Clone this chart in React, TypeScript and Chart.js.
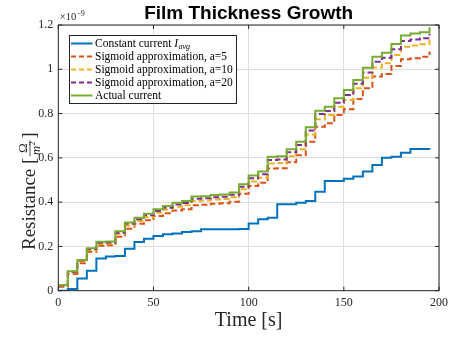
import React, { useEffect, useRef } from "react";
import { Chart, registerables } from "chart.js";

Chart.register(...registerables);

// ---- data (resistance values in units of 1e-9 Ω/m²) ----
const TIME = [
  0, 5, 10, 15, 20, 25, 30, 35, 40, 45, 50, 55, 60, 65, 70, 75, 80, 85, 90, 95,
  100, 105, 110, 115, 120, 125, 130, 135, 140, 145, 150, 155, 160, 165, 170, 175, 180, 185, 190, 195,
];
const CONSTANT_CURRENT = [
  0, 0.008, 0.055, 0.09, 0.145, 0.155, 0.157, 0.19, 0.22, 0.235, 0.247, 0.255, 0.258, 0.265, 0.268, 0.277, 0.277, 0.278, 0.278, 0.279,
  0.303, 0.323, 0.33, 0.39, 0.39, 0.397, 0.405, 0.447, 0.495, 0.495, 0.506, 0.516, 0.538, 0.568, 0.6, 0.605, 0.623, 0.64, 0.64, 0.638,
];
const SIGMOID_A5 = [
  0.018, 0.075, 0.124, 0.176, 0.203, 0.205, 0.244, 0.28, 0.302, 0.318, 0.337, 0.35, 0.362, 0.368, 0.386, 0.388, 0.393, 0.395, 0.402, 0.438,
  0.473, 0.488, 0.552, 0.553, 0.58, 0.612, 0.673, 0.741, 0.756, 0.794, 0.819, 0.866, 0.914, 0.967, 0.979, 1.015, 1.045, 1.05, 1.057, 1.08,
];
const SIGMOID_A10 = [
  0.022, 0.083, 0.133, 0.184, 0.211, 0.213, 0.256, 0.293, 0.315, 0.332, 0.352, 0.366, 0.379, 0.386, 0.405, 0.407, 0.412, 0.414, 0.422, 0.458,
  0.493, 0.51, 0.575, 0.577, 0.607, 0.639, 0.706, 0.774, 0.794, 0.831, 0.861, 0.914, 0.962, 1.008, 1.027, 1.065, 1.102, 1.107, 1.113, 1.135,
];
const SIGMOID_A20 = [
  0.024, 0.086, 0.136, 0.188, 0.216, 0.218, 0.262, 0.302, 0.323, 0.341, 0.36, 0.375, 0.389, 0.396, 0.415, 0.417, 0.422, 0.424, 0.433, 0.47,
  0.508, 0.526, 0.59, 0.592, 0.625, 0.658, 0.723, 0.798, 0.812, 0.849, 0.884, 0.935, 0.985, 1.034, 1.052, 1.09, 1.128, 1.135, 1.14, 1.16,
];
const ACTUAL_CURRENT = [
  0.026, 0.088, 0.139, 0.192, 0.221, 0.222, 0.268, 0.308, 0.33, 0.348, 0.368, 0.383, 0.397, 0.405, 0.425, 0.427, 0.432, 0.434, 0.443, 0.481,
  0.52, 0.538, 0.605, 0.607, 0.639, 0.673, 0.738, 0.813, 0.831, 0.869, 0.906, 0.952, 1.007, 1.057, 1.075, 1.114, 1.153, 1.162, 1.167, 1.19,
];

const X_TICKS = [0, 50, 100, 150, 200];
const Y_TICKS = [0, 0.2, 0.4, 0.6, 0.8, 1, 1.2];
const Y_EXPONENT = "-9";
const TITLE = "Film Thickness Growth";
const X_LABEL = "Time [s]";
const LEGEND_LABELS = [
  "Constant current ",
  "Sigmoid approximation, a=5",
  "Sigmoid approximation, a=10",
  "Sigmoid approximation, a=20",
  "Actual current",
];

const COLORS = ["#0072BD", "#D95319", "#EDB120", "#7E2F8E", "#77AC30"];
const DASHED = [false, true, true, true, false];
const SERIES = [CONSTANT_CURRENT, SIGMOID_A5, SIGMOID_A10, SIGMOID_A20, ACTUAL_CURRENT];

const SERIF = "'Liberation Serif', 'DejaVu Serif', serif";
const SANS = "'Liberation Sans', Arial, sans-serif";
const AXIS_COLOR = "#262626";

const decorPlugin = {
  id: "decor",
  afterDraw(chart: any) {
    const ctx: CanvasRenderingContext2D = chart.ctx;
    const a = chart.chartArea;
    const xs = chart.scales.x;
    const ys = chart.scales.y;
    ctx.save();

    // box
    ctx.strokeStyle = AXIS_COLOR;
    ctx.lineWidth = 1;
    ctx.strokeRect(a.left, a.top, a.right - a.left, a.bottom - a.top);

    // inward ticks
    ctx.beginPath();
    for (const t of X_TICKS) {
      const px = xs.getPixelForValue(t);
      ctx.moveTo(px, a.bottom);
      ctx.lineTo(px, a.bottom - 4);
      ctx.moveTo(px, a.top);
      ctx.lineTo(px, a.top + 4);
    }
    for (const t of Y_TICKS) {
      const py = ys.getPixelForValue(t);
      ctx.moveTo(a.left, py);
      ctx.lineTo(a.left + 4, py);
      ctx.moveTo(a.right, py);
      ctx.lineTo(a.right - 4, py);
    }
    ctx.stroke();

    // title
    ctx.fillStyle = "#000";
    ctx.font = `bold 19px ${SANS}`;
    ctx.textAlign = "center";
    ctx.textBaseline = "alphabetic";
    ctx.fillText(TITLE, (a.left + a.right) / 2, 18.5);

    // exponent
    ctx.fillStyle = AXIS_COLOR;
    ctx.textAlign = "left";
    ctx.font = `10.5px ${SERIF}`;
    ctx.fillText("×10", a.left + 1.5, 20);
    const w10 = ctx.measureText("×10").width;
    ctx.font = `7.5px ${SERIF}`;
    ctx.fillText("−9".replace("-", "−") && "−" + Y_EXPONENT.replace("-", ""), a.left + 1.5 + w10 + 0.5, 15.5);

    // x label
    ctx.font = `20px ${SERIF}`;
    ctx.textAlign = "center";
    ctx.fillStyle = AXIS_COLOR;
    ctx.fillText(X_LABEL, (a.left + a.right) / 2, 326);

    // y label, rotated
    ctx.save();
    ctx.translate(35, 250);
    ctx.rotate(-Math.PI / 2);
    ctx.textAlign = "left";
    ctx.font = `19px ${SERIF}`;
    let x = 0;
    ctx.fillText("Resistance [", x, 0);
    x += ctx.measureText("Resistance [").width + 1.5;
    // fraction
    ctx.font = `13px ${SERIF}`;
    const wOmega = ctx.measureText("Ω").width;
    ctx.font = `italic 13px ${SERIF}`;
    const wm = ctx.measureText("m").width;
    ctx.font = `9px ${SERIF}`;
    const w2 = ctx.measureText("2").width;
    const fracW = Math.max(wOmega, wm + w2) + 2;
    const barY = -5;
    ctx.beginPath();
    ctx.lineWidth = 0.8;
    ctx.moveTo(x, barY);
    ctx.lineTo(x + fracW, barY);
    ctx.stroke();
    ctx.font = `13px ${SERIF}`;
    ctx.fillText("Ω", x + (fracW - wOmega) / 2, barY - 3);
    ctx.font = `italic 13px ${SERIF}`;
    const mx = x + (fracW - wm - w2) / 2;
    ctx.fillText("m", mx, barY + 10);
    ctx.font = `9px ${SERIF}`;
    ctx.fillText("2", mx + wm, barY + 5);
    x += fracW + 1.5;
    ctx.font = `19px ${SERIF}`;
    ctx.fillText("]", x, 0);
    ctx.restore();

    // legend
    const lx = 69.5, ly = 35.5, lw = 167, lh = 68;
    ctx.fillStyle = "#fff";
    ctx.fillRect(lx, ly, lw, lh);
    ctx.strokeStyle = AXIS_COLOR;
    ctx.lineWidth = 1;
    ctx.strokeRect(lx, ly, lw, lh);
    for (let i = 0; i < LEGEND_LABELS.length; i++) {
      const cy = 43.5 + i * 13;
      ctx.beginPath();
      ctx.strokeStyle = COLORS[i];
      ctx.lineWidth = 2;
      ctx.setLineDash(DASHED[i] ? [5, 3] : []);
      ctx.moveTo(71, cy);
      ctx.lineTo(92.5, cy);
      ctx.stroke();
      ctx.setLineDash([]);
      ctx.fillStyle = "#000";
      ctx.font = `11.5px ${SERIF}`;
      ctx.textAlign = "left";
      ctx.textBaseline = "middle";
      ctx.fillText(LEGEND_LABELS[i], 95, cy + 0.5);
      if (i === 0) {
        const w = ctx.measureText(LEGEND_LABELS[i]).width;
        ctx.font = `italic 11.5px ${SERIF}`;
        ctx.fillText("I", 95 + w, cy + 0.5);
        const wi = ctx.measureText("I").width;
        ctx.font = `italic 8px ${SERIF}`;
        ctx.fillText("avg", 95 + w + wi + 0.5, cy + 3.5);
      }
    }
    ctx.restore();
  },
};

export default function App() {
  const ref = useRef<HTMLCanvasElement | null>(null);
  useEffect(() => {
    const canvas = ref.current;
    if (!canvas) return;
    const datasets = SERIES.map((vals, i) => ({
      label: LEGEND_LABELS[i],
      data: TIME.map((t, k) => ({ x: t, y: vals[k] })),
      borderColor: COLORS[i],
      backgroundColor: COLORS[i],
      borderWidth: 2,
      borderDash: DASHED[i] ? [6, 3] : [],
      stepped: true as const,
      pointRadius: 0,
      fill: false,
      order: 5 - i,
    }));
    const gridColor = "#dedede";
    const chart = new Chart(canvas, {
      type: "line",
      data: { datasets },
      options: {
        animation: false,
        responsive: false,
        layout: { padding: { left: 0, right: 15, top: 25, bottom: 0 } },
        plugins: {
          legend: { display: false },
          title: { display: false },
          tooltip: { enabled: false },
        },
        scales: {
          x: {
            type: "linear",
            min: 0,
            max: 200,
            afterFit: (s: any) => {
              s.height = 48.3;
            },
            afterBuildTicks: (s: any) => {
              s.ticks = X_TICKS.map((v) => ({ value: v }));
            },
            ticks: {
              font: { family: SERIF, size: 12 },
              color: AXIS_COLOR,
              padding: 5,
              maxRotation: 0,
              autoSkip: false,
              callback: (v: any) => String(v),
            },
            grid: { color: gridColor, drawTicks: false, lineWidth: 1 },
            border: { display: false },
          },
          y: {
            type: "linear",
            min: 0,
            max: 1.2,
            afterFit: (s: any) => {
              s.width = 58.3;
            },
            afterBuildTicks: (s: any) => {
              s.ticks = Y_TICKS.map((v) => ({ value: v }));
            },
            ticks: {
              font: { family: SERIF, size: 12 },
              color: AXIS_COLOR,
              padding: 5,
              autoSkip: false,
              callback: (v: any) => String(Number(Number(v).toFixed(1))),
            },
            grid: { color: gridColor, drawTicks: false, lineWidth: 1 },
            border: { display: false },
          },
        },
      } as any,
      plugins: [decorPlugin],
    });
    return () => chart.destroy();
  }, []);
  return (
    <div style={{ position: "absolute", left: 0, top: 0, width: 454, height: 339, background: "#fff" }}>
      <canvas ref={ref} width={454} height={339} style={{ display: "block" }} />
    </div>
  );
}
